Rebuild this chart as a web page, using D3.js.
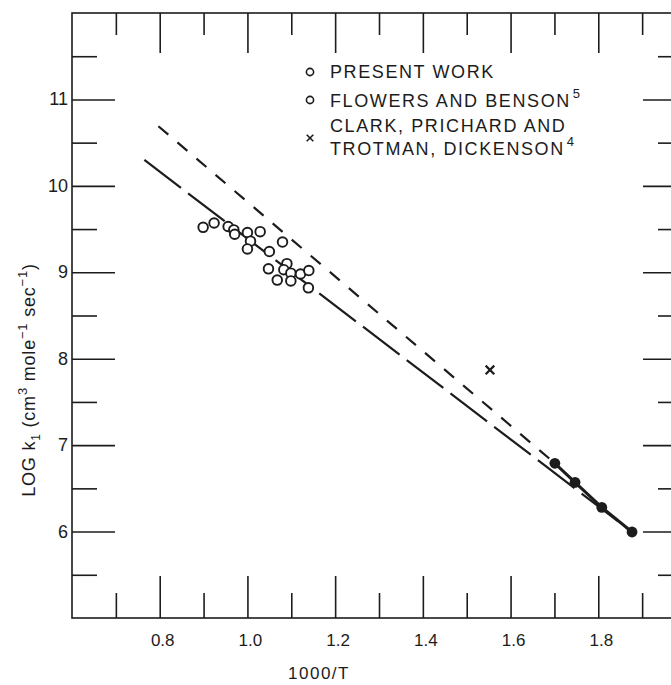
<!DOCTYPE html>
<html>
<head>
<meta charset="utf-8">
<script src="https://cdn.jsdelivr.net/npm/d3@7"></script>
<style>
  body { margin: 0; background: #fff; }
  svg { display: block; }
  text { font-family: "Liberation Sans", Arial, sans-serif; fill: #1c1c1c; }
</style>
</head>
<body>
<svg id="chart" width="671" height="685"></svg>
<script>
// values
const xMajor = [0.8, 1.0, 1.2, 1.4, 1.6, 1.8];
const xMinor = [0.7, 0.9, 1.1, 1.3, 1.5, 1.7, 1.9];
const xTickLabels = ["0.8", "1.0", "1.2", "1.4", "1.6", "1.8"];
const yMajor = [6, 7, 8, 9, 10, 11];
const yMinor = [5.5, 6.5, 7.5, 8.5, 9.5, 10.5, 11.5];

// open circles (present work + Flowers and Benson)
const openX = [0.899, 0.924, 0.956, 0.969, 0.971, 1.000, 1.029, 1.007, 1.000, 1.080,
               1.050, 1.090, 1.048, 1.083, 1.099, 1.068, 1.099, 1.121, 1.140, 1.139];
const openY = [9.52, 9.57, 9.53, 9.49, 9.44, 9.46, 9.47, 9.36, 9.27, 9.35,
               9.24, 9.10, 9.04, 9.03, 8.99, 8.91, 8.90, 8.98, 9.02, 8.82];

// filled circles (low temperature end)
const filledX = [1.701, 1.747, 1.808, 1.877];
const filledY = [6.79, 6.57, 6.28, 5.995];

// Clark, Prichard and Trotman, Dickenson
const crossX = [1.553];
const crossY = [7.87];

// fitted lines
const lowerLineX = [0.765, 1.877];
const lowerLineY = [10.30, 5.995];
const upperLineX = [0.797, 1.701];
const upperLineY = [10.69, 6.79];

const legendLabels = ["PRESENT WORK", "FLOWERS AND BENSON", "CLARK, PRICHARD AND", "TROTMAN, DICKENSON"];
const legendSups = ["", "5", "", "4"];

const svg = d3.select("#chart");
const ink = "#1c1c1c";

const x = d3.scaleLinear().domain([0.6, 2.0]).range([72, 686]);
const y = d3.scaleLinear().domain([5, 12]).range([618, 13]);

// frame
svg.append("rect")
    .attr("x", x(0.6)).attr("y", y(12))
    .attr("width", x(2.0) - x(0.6)).attr("height", y(5) - y(12))
    .attr("fill", "none").attr("stroke", ink).attr("stroke-width", 1.6);

function tickAxis(axis, pos, values, len) {
    const g = svg.append("g")
        .attr("transform", pos)
        .call(axis.tickValues(values).tickSize(-len).tickFormat(""));
    g.select(".domain").remove();
    g.selectAll("line").attr("stroke", ink).attr("stroke-width", 1.6);
    return g;
}

tickAxis(d3.axisBottom(x), `translate(0,${y(5)})`, xMajor, 42);
tickAxis(d3.axisBottom(x), `translate(0,${y(5)})`, xMinor, 25);
tickAxis(d3.axisTop(x), `translate(0,${y(12)})`, xMajor, 40);
tickAxis(d3.axisTop(x), `translate(0,${y(12)})`, xMinor, 22);
tickAxis(d3.axisLeft(y), `translate(${x(0.6)},0)`, yMajor, 43);
tickAxis(d3.axisLeft(y), `translate(${x(0.6)},0)`, yMinor, 25);
tickAxis(d3.axisRight(y), `translate(${x(2.0)},0)`, yMajor, 43);
tickAxis(d3.axisRight(y), `translate(${x(2.0)},0)`, yMinor, 28);

// tick labels
svg.append("g").selectAll("text")
    .data(xMajor)
    .enter().append("text")
        .attr("x", d => x(d) + 3)
        .attr("y", 646)
        .attr("text-anchor", "middle")
        .style("font-size", "17px")
        .text((d, i) => xTickLabels[i]);

svg.append("g").selectAll("text")
    .data(yMajor)
    .enter().append("text")
        .attr("x", x(0.6) - 4)
        .attr("y", d => y(d) + 6)
        .attr("text-anchor", "end")
        .style("font-size", "18px")
        .text(d => d);

// axis titles
svg.append("text")
    .attr("x", 319).attr("y", 679)
    .attr("text-anchor", "middle")
    .style("font-size", "17px")
    .style("letter-spacing", "1.5px")
    .text("1000/T");

const yt = svg.append("text")
    .attr("transform", "translate(35,380) rotate(-90)")
    .attr("text-anchor", "middle")
    .style("font-size", "18px")
    .style("letter-spacing", "0.8px");
yt.append("tspan").text("LOG k");
yt.append("tspan").attr("dy", 5).style("font-size", "12px").text("1");
yt.append("tspan").attr("dy", -5).text(" (cm");
yt.append("tspan").attr("dy", -8).style("font-size", "13px").text("3");
yt.append("tspan").attr("dy", 8).text(" mole");
yt.append("tspan").attr("dy", -8).style("font-size", "13px").text("\u22121");
yt.append("tspan").attr("dy", 8).text(" sec");
yt.append("tspan").attr("dy", -8).style("font-size", "13px").text("\u22121");
yt.append("tspan").attr("dy", 8).text(")");

// lines
const line = d3.line().x(d => x(d[0])).y(d => y(d[1]));

svg.append("path")
    .datum(d3.zip(lowerLineX, lowerLineY))
    .attr("d", line)
    .attr("fill", "none").attr("stroke", ink).attr("stroke-width", 2.2)
    .attr("stroke-dasharray", "46 9");

svg.append("path")
    .datum(d3.zip(upperLineX, upperLineY))
    .attr("d", line)
    .attr("fill", "none").attr("stroke", ink).attr("stroke-width", 2.2)
    .attr("stroke-dasharray", "13 12");

svg.append("path")
    .datum(d3.zip(filledX, filledY))
    .attr("d", line)
    .attr("fill", "none").attr("stroke", ink).attr("stroke-width", 3);

// points
svg.append("g").selectAll("circle")
    .data(d3.zip(openX, openY))
    .enter().append("circle")
        .attr("cx", d => x(d[0]))
        .attr("cy", d => y(d[1]))
        .attr("r", 4.8)
        .attr("fill", "#fff")
        .attr("stroke", ink).attr("stroke-width", 1.9);

svg.append("g").selectAll("circle")
    .data(d3.zip(filledX, filledY))
    .enter().append("circle")
        .attr("cx", d => x(d[0]))
        .attr("cy", d => y(d[1]))
        .attr("r", 5.4)
        .attr("fill", ink);

const cross = d3.symbol().type(d3.symbolTimes).size(50);
svg.append("g").selectAll("path")
    .data(d3.zip(crossX, crossY))
    .enter().append("path")
        .attr("transform", d => `translate(${x(d[0])},${y(d[1])})`)
        .attr("d", cross)
        .attr("fill", "none")
        .attr("stroke", ink).attr("stroke-width", 2.2);

// legend
const legend = svg.append("g");
const legendRows = [78, 107, 132, 155];
legendLabels.forEach((lab, i) => {
    const t = legend.append("text")
        .attr("x", 330).attr("y", legendRows[i])
        .style("font-size", "18px")
        .style("letter-spacing", "1.6px");
    t.append("tspan").text(lab);
    if (legendSups[i]) {
        t.append("tspan").attr("dx", 2).attr("dy", -9).style("font-size", "13px").text(legendSups[i]);
    }
});
[72, 100].forEach(cy => {
    legend.append("circle")
        .attr("cx", 310).attr("cy", cy).attr("r", 3.6)
        .attr("fill", "none").attr("stroke", ink).attr("stroke-width", 1.6);
});
legend.append("path")
    .attr("transform", "translate(310,138)")
    .attr("d", d3.symbol().type(d3.symbolTimes).size(30))
    .attr("fill", "none")
    .attr("stroke", ink).attr("stroke-width", 1.6);
</script>
</body>
</html>
